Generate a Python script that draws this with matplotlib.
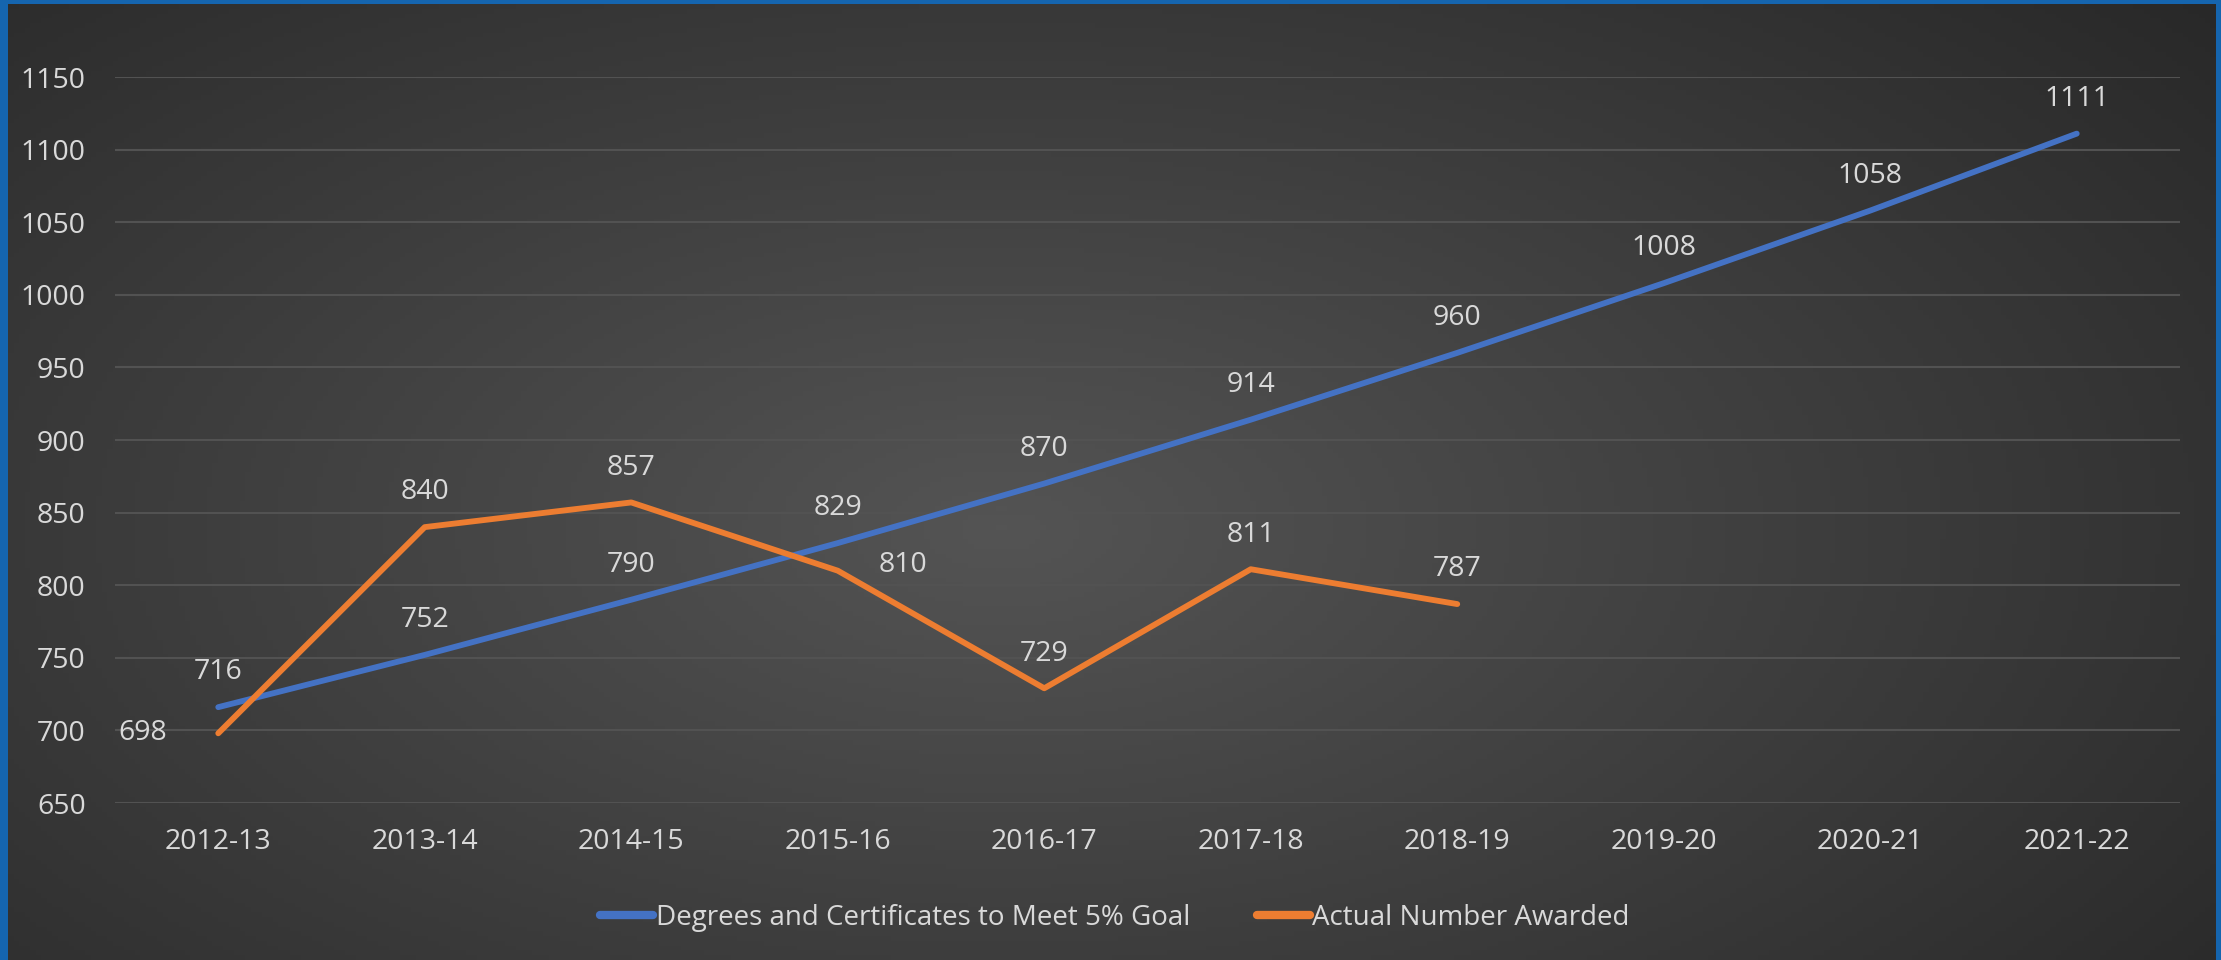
import matplotlib.pyplot as plt
import numpy as np

plt.rcParams['font.family'] = ['Open Sans', 'DejaVu Sans']

years = ["2012-13", "2013-14", "2014-15", "2015-16", "2016-17",
         "2017-18", "2018-19", "2019-20", "2020-21", "2021-22"]
goal = [716, 752, 790, 829, 870, 914, 960, 1008, 1058, 1111]
actual = [698, 840, 857, 810, 729, 811, 787]

goal_name = "Degrees and Certificates to Meet 5% Goal"
actual_name = "Actual Number Awarded"

txt = "#d9d9d9"

fig = plt.figure(figsize=(22.21, 9.6), dpi=100)
fig.patch.set_facecolor("#1565af")

# dark radial-gradient panel inside the blue frame
bg = fig.add_axes([8/2221, 0, 2208/2221, 956/960])
bg.axis("off")
gx, gy = np.meshgrid(np.linspace(0, 1, 400), np.linspace(0, 1, 200))
r = np.sqrt(((gx - 0.45) / 0.75) ** 2 + ((gy - 0.55) / 0.9) ** 2)
shade = 0.33 - 0.18 * np.clip(r, 0, 1)
bg.imshow(np.dstack([shade, shade, shade]), aspect="auto", extent=[0, 1, 0, 1])

ax = fig.add_axes([115/2221, 1 - 803/960, 2065/2221, (803 - 77)/960])
ax.set_facecolor("none")
x = np.arange(len(years))

ax.plot(x, goal, color="#4472c4", lw=4.2, solid_capstyle="round", label=goal_name, zorder=3)
ax.plot(x[:len(actual)], actual, color="#ed7d31", lw=4.2, solid_capstyle="round", label=actual_name, zorder=3)

for i, v in enumerate(goal):
    ax.annotate(str(v), (i, v), xytext=(0, 25), textcoords="offset points",
                ha="center", va="center", color=txt, fontsize=20.5)
for i, v in enumerate(actual):
    off = (0, 25)
    if i == 0:
        off = (-54, 0)
    elif i == 3:
        off = (47, 4)
    ax.annotate(str(v), (i, v), xytext=off, textcoords="offset points",
                ha="center", va="center", color=txt, fontsize=20.5)

ax.set_xlim(-0.5, len(years) - 0.5)
ax.set_ylim(650, 1150)
ax.set_yticks(np.arange(650, 1151, 50))
ax.set_xticks(x)
ax.set_xticklabels(years)
ax.grid(axis="y", color="#525252", lw=1.5)
ax.set_axisbelow(True)
for s in ax.spines.values():
    s.set_visible(False)
ax.tick_params(axis="y", length=0, pad=21, labelsize=20.5, labelcolor=txt)
ax.tick_params(axis="x", length=0, pad=18, labelsize=20.5, labelcolor=txt)

leg = fig.legend(loc="center", bbox_to_anchor=(0.502, 1 - 918/960), ncol=2,
                 frameon=False, fontsize=20, handlelength=1.9, handletextpad=0.1,
                 columnspacing=2.4)
for t in leg.get_texts():
    t.set_color(txt)
for h in leg.legend_handles:
    h.set_linewidth(6)

fig.savefig("out.png", dpi=100, facecolor=fig.get_facecolor())
